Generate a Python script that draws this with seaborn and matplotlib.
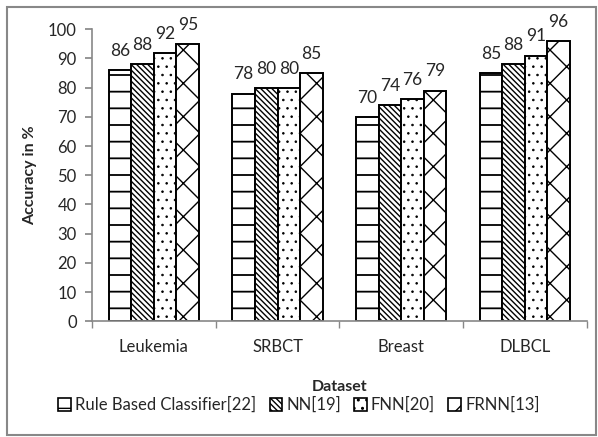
import matplotlib.pyplot as plt
import matplotlib.patches as mpatches
import pandas as pd
import seaborn as sns

datasets = ["Leukemia", "SRBCT", "Breast", "DLBCL"]
methods = ["Rule Based Classifier[22]", "NN[19]", "FNN[20]", "FRNN[13]"]
rule_based = [86, 78, 70, 85]
nn = [88, 80, 74, 88]
fnn = [92, 80, 76, 91]
frnn = [95, 85, 79, 96]

hatches = ["-", "\\" * 6, "..", "x"]
hatch_lw = [1.3, 1.0, 0.6, 1.0]

rows = []
for m, vals in zip(methods, [rule_based, nn, fnn, frnn]):
    for d, v in zip(datasets, vals):
        rows.append({"Dataset": d, "Method": m, "Accuracy": v})
df = pd.DataFrame(rows)

sns.set_theme(style="white")
plt.rcParams["font.family"] = ["Lato", "DejaVu Sans"]
plt.rcParams["hatch.linewidth"] = 1.0

fig = plt.figure(figsize=(5.98, 4.37), dpi=100)
ax = fig.add_axes([0.154, 0.265, 0.827, 0.668])

sns.barplot(data=df, x="Dataset", y="Accuracy", hue="Method", order=datasets,
            hue_order=methods, width=0.73, gap=0, palette=["white"] * 4,
            edgecolor="black", linewidth=1.4, ax=ax, legend=False)

for cont, h, hl in zip(ax.containers, hatches, hatch_lw):
    for bar in cont:
        bar.set_hatch(h)
        if hasattr(bar, "set_hatch_linewidth"):
            bar.set_hatch_linewidth(hl)
    ax.bar_label(cont, fmt="%d", padding=8, fontsize=12.5, clip_on=False)

ax.set_ylim(0, 100)
ax.set_xlim(-0.5, 3.5)
ax.set_yticks(range(0, 101, 10))
ax.tick_params(axis="y", which="major", length=5, color="#888888", labelsize=12, pad=6, left=True)
ax.set_xticks([-0.5, 0.5, 1.5, 2.5, 3.5], minor=True)
ax.tick_params(axis="x", which="minor", length=5, color="#888888", bottom=True, direction="out")
ax.tick_params(axis="x", which="major", length=0, labelsize=12, pad=13)

for s in ["top", "right"]:
    ax.spines[s].set_visible(False)
for s in ["left", "bottom"]:
    ax.spines[s].set_color("#888888")
    ax.spines[s].set_linewidth(1.2)

ax.set_ylabel("Accuracy in %", fontsize=11.5, fontweight="bold", labelpad=8)
ax.set_xlabel("Dataset", fontsize=11.5, fontweight="bold", labelpad=18)

handles = []
for h, hl in zip(hatches, hatch_lw):
    p = mpatches.Patch(facecolor="white", edgecolor="black", hatch=h, linewidth=1.2)
    if hasattr(p, "set_hatch_linewidth"):
        p.set_hatch_linewidth(hl)
    handles.append(p)
fig.legend(handles, methods, loc="center", bbox_to_anchor=(0.5, 0.073), ncol=4,
           frameon=False, fontsize=12, handlelength=0.75, handleheight=0.75,
           handletextpad=0.25, columnspacing=0.8, borderaxespad=0)

fig.patches.append(mpatches.Rectangle((0.012, 0.005), 0.985, 0.978, transform=fig.transFigure,
                                      fill=False, edgecolor="#888888", linewidth=1.5))

fig.savefig("out.png", dpi=100)
